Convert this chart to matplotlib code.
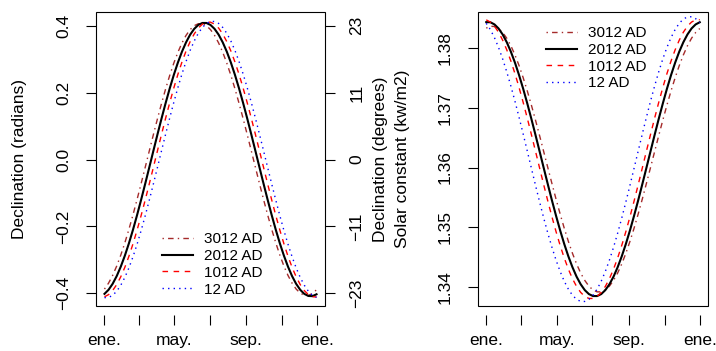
import matplotlib.pyplot as plt
from matplotlib.patches import Rectangle

plt.rcParams['font.family'] = ['Liberation Sans', 'DejaVu Sans']
FS = 12.5      # axis text
FS_LEG = 11    # legend text

# day of year of each sample (weekly)
days = [1, 8, 15, 22, 29, 36, 43, 50, 57, 64, 71, 78, 85, 92, 99, 106, 113, 120, 127,
        134, 141, 148, 155, 162, 169, 176, 183, 190, 197, 204, 211, 218, 225, 232, 239,
        246, 253, 260, 267, 274, 281, 288, 295, 302, 309, 316, 323, 330, 337, 344, 351,
        358, 365]

# declination (radians)
dec_3012 = [-0.3873, -0.3696, -0.3465, -0.3184, -0.2857, -0.2488, -0.2084, -0.1649, -0.1190,
            -0.0714, -0.0227, 0.0262, 0.0748, 0.1223, 0.1681, 0.2114, 0.2516, 0.2882,
            0.3206, 0.3484, 0.3711, 0.3884, 0.4001, 0.4060, 0.4060, 0.4001, 0.3884, 0.3711,
            0.3484, 0.3206, 0.2882, 0.2516, 0.2114, 0.1681, 0.1223, 0.0748, 0.0262, -0.0227,
            -0.0714, -0.1190, -0.1649, -0.2084, -0.2488, -0.2857, -0.3184, -0.3465, -0.3696,
            -0.3873, -0.3994, -0.4057, -0.4062, -0.4007, -0.3894]
dec_2012 = [-0.4017, -0.3895, -0.3717, -0.3485, -0.3202, -0.2873, -0.2503, -0.2096, -0.1658,
            -0.1197, -0.0718, -0.0229, 0.0264, 0.0753, 0.1230, 0.1690, 0.2126, 0.2530,
            0.2898, 0.3224, 0.3503, 0.3732, 0.3906, 0.4024, 0.4083, 0.4083, 0.4024, 0.3906,
            0.3732, 0.3503, 0.3224, 0.2898, 0.2530, 0.2126, 0.1690, 0.1230, 0.0753, 0.0264,
            -0.0229, -0.0718, -0.1197, -0.1658, -0.2096, -0.2503, -0.2873, -0.3202, -0.3485,
            -0.3717, -0.3895, -0.4017, -0.4080, -0.4085, -0.4030]
dec_1012 = [-0.4104, -0.4040, -0.3918, -0.3739, -0.3505, -0.3221, -0.2890, -0.2517, -0.2108,
            -0.1668, -0.1204, -0.0722, -0.0230, 0.0265, 0.0757, 0.1238, 0.1700, 0.2138,
            0.2545, 0.2915, 0.3243, 0.3524, 0.3754, 0.3929, 0.4047, 0.4107, 0.4107, 0.4047,
            0.3929, 0.3754, 0.3524, 0.3243, 0.2915, 0.2545, 0.2138, 0.1700, 0.1238, 0.0757,
            0.0265, -0.0230, -0.0722, -0.1204, -0.1668, -0.2108, -0.2517, -0.2890, -0.3221,
            -0.3505, -0.3739, -0.3918, -0.4040, -0.4104, -0.4109]
dec_12 = [-0.4130, -0.4125, -0.4061, -0.3938, -0.3758, -0.3523, -0.3238, -0.2905, -0.2530,
          -0.2119, -0.1676, -0.1210, -0.0726, -0.0231, 0.0267, 0.0761, 0.1244, 0.1709,
          0.2149, 0.2558, 0.2930, 0.3260, 0.3542, 0.3773, 0.3949, 0.4068, 0.4128, 0.4128,
          0.4068, 0.3949, 0.3773, 0.3542, 0.3260, 0.2930, 0.2558, 0.2149, 0.1709, 0.1244,
          0.0761, 0.0267, -0.0231, -0.0726, -0.1210, -0.1676, -0.2119, -0.2530, -0.2905,
          -0.3238, -0.3523, -0.3758, -0.3938, -0.4061, -0.4125]

# solar constant (kw/m2)
sc_3012 = [1.38327, 1.38357, 1.38355, 1.38320, 1.38254, 1.38158, 1.38032, 1.37878, 1.37700,
           1.37498, 1.37278, 1.37040, 1.36790, 1.36530, 1.36264, 1.35997, 1.35732, 1.35472,
           1.35223, 1.34986, 1.34767, 1.34567, 1.34390, 1.34238, 1.34115, 1.34020, 1.33956,
           1.33924, 1.33924, 1.33956, 1.34020, 1.34115, 1.34238, 1.34390, 1.34567, 1.34767,
           1.34986, 1.35223, 1.35472, 1.35732, 1.35997, 1.36264, 1.36530, 1.36790, 1.37040,
           1.37278, 1.37498, 1.37700, 1.37878, 1.38032, 1.38158, 1.38254, 1.38320]
sc_2012 = [1.38427, 1.38425, 1.38389, 1.38321, 1.38221, 1.38091, 1.37933, 1.37749, 1.37541,
           1.37313, 1.37068, 1.36810, 1.36542, 1.36268, 1.35992, 1.35719, 1.35451, 1.35194,
           1.34950, 1.34723, 1.34517, 1.34335, 1.34178, 1.34051, 1.33953, 1.33887, 1.33854,
           1.33854, 1.33887, 1.33953, 1.34051, 1.34178, 1.34335, 1.34517, 1.34723, 1.34950,
           1.35194, 1.35451, 1.35719, 1.35992, 1.36268, 1.36542, 1.36810, 1.37068, 1.37313,
           1.37541, 1.37749, 1.37933, 1.38091, 1.38221, 1.38321, 1.38389, 1.38425]
sc_1012 = [1.38465, 1.38428, 1.38359, 1.38258, 1.38125, 1.37964, 1.37777, 1.37566, 1.37334,
           1.37085, 1.36822, 1.36549, 1.36270, 1.35990, 1.35711, 1.35439, 1.35177, 1.34929,
           1.34699, 1.34489, 1.34303, 1.34144, 1.34014, 1.33915, 1.33848, 1.33814, 1.33814,
           1.33848, 1.33915, 1.34014, 1.34144, 1.34303, 1.34489, 1.34699, 1.34929, 1.35177,
           1.35439, 1.35711, 1.35990, 1.36270, 1.36549, 1.36822, 1.37085, 1.37334, 1.37566,
           1.37777, 1.37964, 1.38125, 1.38258, 1.38359, 1.38428, 1.38465, 1.38467]
sc_12 = [1.38407, 1.38303, 1.38168, 1.38004, 1.37812, 1.37596, 1.37359, 1.37105, 1.36836,
         1.36558, 1.36273, 1.35987, 1.35702, 1.35424, 1.35156, 1.34903, 1.34668, 1.34454,
         1.34264, 1.34101, 1.33969, 1.33867, 1.33799, 1.33764, 1.33764, 1.33799, 1.33867,
         1.33969, 1.34101, 1.34264, 1.34454, 1.34668, 1.34903, 1.35156, 1.35424, 1.35702,
         1.35987, 1.36273, 1.36558, 1.36836, 1.37105, 1.37359, 1.37596, 1.37812, 1.38004,
         1.38168, 1.38303, 1.38407, 1.38478, 1.38514, 1.38517, 1.38485, 1.38419]

years = ['3012 AD', '2012 AD', '1012 AD', '12 AD']
month_ticks = [1, 60, 121, 182, 244, 305, 366]
month_labels = ['ene.', '', 'may.', '', 'sep.', '', 'ene.']
rad_ticks = [0.4, 0.2, 0.0, -0.2, -0.4]
rad_labels = ['0.4', '0.2', '0.0', '\u22120.2', '\u22120.4']
deg_labels = ['23', '11', '0', '\u221211', '\u221223']
sc_ticks = [1.38, 1.37, 1.36, 1.35, 1.34]
sc_labels = ['1.38', '1.37', '1.36', '1.35', '1.34']

styles = [dict(color='brown', lw=1, dashes=(1, 3, 4, 3)),
          dict(color='black', lw=1.5),
          dict(color='red', lw=1, dashes=(4, 4)),
          dict(color='blue', lw=1, dashes=(1, 3))]

fig = plt.figure(figsize=(7.16, 3.51), dpi=100)
W, H = 716, 351


def panel(x0, x1):
    return fig.add_axes([x0 / W, 45 / H, (x1 - x0) / W, 294.3 / H])


def r_style(ax):
    for s in ax.spines.values():
        s.set_visible(False)
    ax.add_patch(Rectangle((0, 0), 1, 1, transform=ax.transAxes, fill=False,
                           lw=0.8, ec='black', clip_on=False, zorder=5))
    ax.spines['bottom'].set_position(('outward', 6.5))
    ax.set_xlim(-13.56, 379.56)
    ax.set_xticks(month_ticks)
    ax.set_xticklabels(month_labels)
    ax.tick_params(axis='both', direction='out', length=7.5, width=0.8, labelsize=FS)
    ax.tick_params(axis='x', pad=5.5)
    ax.tick_params(axis='y', pad=10.5, labelrotation=90)
    for lbl in ax.get_yticklabels():
        lbl.set_va('center')


leg_kw = dict(frameon=False, fontsize=FS_LEG, handlelength=2.0, handletextpad=0.75,
              labelspacing=0.18, borderpad=0, borderaxespad=0)

ax1 = panel(96, 325)
for vals, st in zip([dec_3012, dec_2012, dec_1012, dec_12], styles):
    ax1.plot(days, vals, **st)
ax1.set_ylim(-0.438, 0.442)
ax1.set_yticks(rad_ticks)
ax1.set_yticklabels(rad_labels)
r_style(ax1)
ax1.legend(years, loc='lower left', bbox_to_anchor=(0.29, 0.032), **leg_kw)

ax1r = ax1.twinx()
for s in ax1r.spines.values():
    s.set_visible(False)
ax1r.set_ylim(-0.438, 0.442)
ax1r.set_yticks(rad_ticks)
ax1r.set_yticklabels(deg_labels)
ax1r.tick_params(axis='y', direction='out', length=7.5, width=0.8, labelsize=FS,
                 pad=10, labelrotation=90)
for lbl in ax1r.get_yticklabels():
    lbl.set_va('center')

ax2 = panel(477.7, 708.3)
for vals, st in zip([sc_3012, sc_2012, sc_1012, sc_12], styles):
    ax2.plot(days, vals, **st)
ax2.set_ylim(1.33688, 1.38601)
ax2.set_yticks(sc_ticks)
ax2.set_yticklabels(sc_labels)
r_style(ax2)
ax2.legend(years, loc='upper left', bbox_to_anchor=(0.296, 0.951), **leg_kw)

yc = 1 - 159 / H
fig.text(20 / W, yc, 'Declination (radians)', rotation=90, ha='center', va='center', fontsize=FS)
fig.text(380 / W, yc, 'Declination (degrees)', rotation=90, ha='center', va='center', fontsize=FS)
fig.text(402 / W, yc, 'Solar constant (kw/m2)', rotation=90, ha='center', va='center', fontsize=FS)

fig.savefig('out.png', dpi=100)
